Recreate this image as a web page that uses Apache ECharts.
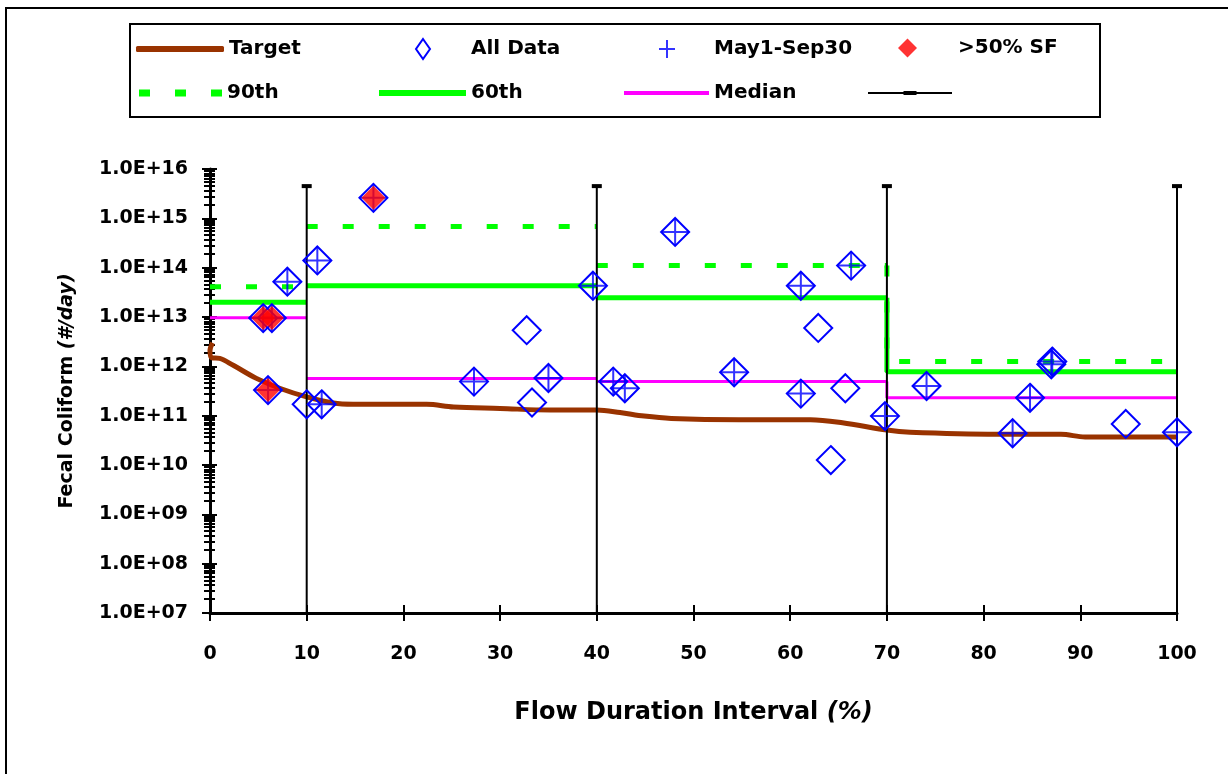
<!DOCTYPE html>
<html>
<head>
<meta charset="utf-8">
<script src="https://cdn.jsdelivr.net/npm/echarts@6/dist/echarts.min.js"></script>
<style>
html,body{margin:0;padding:0;background:#fff;}
#chart{width:1228px;height:774px;}
</style>
</head>
<body>
<div id="chart"></div>
<script>
// ---- data ----
const zoneEdges = [0, 10, 40, 70, 100];
const pct90 = [4.1e13, 6.8e14, 1.1e14, 1.26e12];
const pct60 = [2.0e13, 4.3e13, 2.45e13, 7.8e11];
const medianVals = [9.6e12, 5.7e11, 4.9e11, 2.3e11];

const targetX = [0.27, 0, 0.17, 1.0, 2.4, 4.8, 7.2, 10, 12.75, 14.8, 22.4, 25.2, 30, 35.2, 40, 42.4, 44.9, 47.7, 54.7, 62.1, 65.4, 70, 72.4, 81.4, 88, 90.5, 100];
const targetY = [3.0e12, 2.1e12, 1.5e12, 1.45e12, 1.05e12, 5.7e11, 3.6e11, 2.4e11, 1.8e11, 1.7e11, 1.7e11, 1.5e11, 1.4e11, 1.3e11, 1.3e11, 1.16e11, 9.8e10, 8.8e10, 8.3e10, 8.3e10, 7.2e10, 5.1e10, 4.6e10, 4.2e10, 4.2e10, 3.7e10, 3.7e10];

const allDataX = [5.5, 6.4, 6.0, 8.0, 10.0, 11.1, 11.55, 16.9, 27.3, 32.75, 33.3, 35.0, 39.6, 41.7, 42.9, 48.1, 54.2, 61.1, 61.1, 62.9, 64.2, 65.7, 66.3, 69.8, 74.1, 83.0, 84.8, 87.0, 87.1, 94.7, 100];
const allDataY = [9.5e12, 9.5e12, 3.3e11, 5.2e13, 1.7e11, 1.4e14, 1.7e11, 2.6e15, 4.9e11, 5.4e12, 1.85e11, 5.8e11, 4.3e13, 4.9e11, 3.6e11, 5.3e14, 7.6e11, 4.3e13, 2.8e11, 6.0e12, 1.26e10, 3.6e11, 1.1e14, 9.8e10, 4.0e11, 4.4e10, 2.3e11, 1.1e12, 1.25e12, 6.8e10, 4.6e10];

const maySepX = [5.5, 6.4, 6.0, 8.0, 11.1, 11.55, 16.9, 27.3, 35.0, 39.6, 41.7, 42.9, 48.1, 54.2, 61.1, 61.1, 66.3, 69.8, 74.1, 83.0, 84.8, 87.0, 87.1, 100];
const maySepY = [9.5e12, 9.5e12, 3.3e11, 5.2e13, 1.4e14, 1.7e11, 2.6e15, 4.9e11, 5.8e11, 4.3e13, 4.9e11, 3.6e11, 5.3e14, 7.6e11, 4.3e13, 2.8e11, 1.1e14, 9.8e10, 4.0e11, 4.4e10, 2.3e11, 1.1e12, 1.25e12, 4.6e10];

const sfX = [5.5, 6.4, 6.0, 16.9];
const sfY = [9.5e12, 9.5e12, 3.3e11, 2.6e15];

const barX = [10, 40, 70, 100];
const barTop = 4.5e15;
const yMin = 1e7, yMax = 1e16;
const xTicks = [0, 10, 20, 30, 40, 50, 60, 70, 80, 90, 100];

// ---- build ----
const FONT = 'DejaVu Sans';
const zip = (xs, ys) => xs.map((x, i) => [x, ys[i]]);

function stepSeries(name, vals, lineStyle, z) {
  const out = [];
  for (let i = 0; i < vals.length; i++) {
    const pts = [];
    if (i === vals.length - 1) pts.push([zoneEdges[i], vals[i - 1]]);
    pts.push([zoneEdges[i], vals[i]], [zoneEdges[i + 1], vals[i]]);
    out.push({
      name: name, type: 'line', data: pts, symbol: 'none', z: z,
      lineStyle: lineStyle, itemStyle: { color: lineStyle.color },
      animation: false, silent: true
    });
  }
  return out;
}

const series = [];
series.push({
  name: 'Target', type: 'line', data: zip(targetX, targetY), symbol: 'none', smooth: 0.35,
  lineStyle: { color: '#993300', width: 5 }, itemStyle: { color: '#993300' }, z: 3, animation: false
});
series.push({
  name: 'All Data', type: 'scatter', data: zip(allDataX, allDataY), symbol: 'diamond', symbolSize: [28, 28],
  itemStyle: { color: 'rgba(0,0,0,0)', borderColor: '#0000ff', borderWidth: 2, opacity: 1 }, z: 5, animation: false
});
series.push({
  name: 'May1-Sep30', type: 'scatter', data: zip(maySepX, maySepY), symbol: 'path://M0,-1L0,1M-1,0L1,0', symbolSize: [28, 28],
  itemStyle: { color: 'rgba(0,0,0,0)', borderColor: '#0000ff', borderWidth: 2 }, z: 5, animation: false
});
series.push({
  name: '>50% SF', type: 'scatter', data: zip(sfX, sfY), symbol: 'diamond', symbolSize: [24, 24],
  itemStyle: { color: '#ff0000' }, z: 6, animation: false
});
series.push(...stepSeries('90th', pct90, { color: '#00ff00', width: 5, type: [11, 25], cap: 'butt' }, 2));
series.push(...stepSeries('60th', pct60, { color: '#00ff00', width: 5 }, 2));
series.push(...stepSeries('Median', medianVals, { color: '#ff00ff', width: 3 }, 2));
barX.forEach(x => {
  series.push({
    name: ' ', type: 'line', symbol: 'rect', symbolSize: [10, 4], showSymbol: true,
    data: [{ value: [x, yMin], symbol: 'none' }, { value: [x, barTop] }],
    lineStyle: { color: '#000', width: 2 }, itemStyle: { color: '#000' }, z: 4, animation: false, silent: true
  });
});

function leg(name, left, top, w, h, icon, pad) {
  return {
    data: [{ name: name, icon: icon }],
    left: left, top: top, itemWidth: w, itemHeight: h, padding: 0, itemGap: 0,
    symbolKeepAspect: false, selectedMode: false,
    textStyle: { fontFamily: FONT, fontWeight: 'bold', fontSize: 20, color: '#000', padding: [0, 0, 0, pad || 0] }
  };
}
const diamondIcon = 'path://M0,0L2,3L0,6L-2,3Z';
const plusIcon = 'path://M0,0L0,2M-1,1L1,1';
const dashIcon = 'path://M0,0h11v7h-11zM36,0h11v7h-11zM72,0h11v7h-11z';
const barIcon = 'path://M0,1h84v2h-84zM35.5,0h13v4h-13z';
const legends = [
  leg('Target', 136, 39, 88, 6, 'roundRect'),
  leg('All Data', 415, 38, 14, 20, diamondIcon, 36),
  leg('May1-Sep30', 658, 39, 16, 18, plusIcon, 34),
  leg('>50% SF', 898, 38, 19, 19, diamondIcon, 36),
  leg('90th', 139, 83, 83, 7, dashIcon),
  leg('60th', 379, 83, 87, 6, 'rect'),
  leg('Median', 624, 83, 85, 4, 'rect'),
  leg(' ', 868, 83, 84, 4, barIcon)
];

const axisFont = { fontFamily: FONT, fontWeight: 'bold', fontSize: 19, color: '#000' };
const chart = echarts.init(document.getElementById('chart'), null, { renderer: 'canvas' });
chart.setOption({
  backgroundColor: '#ffffff',
  animation: false,
  textStyle: { fontFamily: FONT },
  legend: legends,
  grid: { left: 210, right: 51, top: 169, bottom: 161, containLabel: false },
  xAxis: [{
    type: 'value', min: 0, max: 100, interval: 10,
    axisLine: { onZero: false, lineStyle: { color: '#000', width: 3 } },
    axisTick: { length: 8, lineStyle: { color: '#000', width: 2 } },
    axisLabel: Object.assign({ margin: 32, formatter: v => xTicks.includes(v) ? String(v) : '' }, axisFont),
    splitLine: { show: false },
    name: '{a|Flow Duration Interval }{b|(%)}', nameLocation: 'middle', nameGap: 88,
    nameTextStyle: { rich: {
      a: { fontFamily: FONT, fontWeight: 'bold', fontSize: 24, color: '#000' },
      b: { fontFamily: FONT, fontWeight: 'bold', fontStyle: 'italic', fontSize: 24, color: '#000' } } }
  }, {
    type: 'value', min: 0, max: 100, interval: 10, position: 'bottom',
    axisLine: { show: false }, axisLabel: { show: false }, splitLine: { show: false },
    axisTick: { inside: true, length: 8, lineStyle: { color: '#000', width: 2 } }
  }],
  yAxis: [{
    type: 'log', logBase: 10, min: yMin, max: yMax,
    axisLine: { show: true, onZero: false, lineStyle: { color: '#000', width: 3 } },
    axisTick: { show: true, length: 8, lineStyle: { color: '#000', width: 2 } },
    minorTick: { show: true, splitNumber: 10, length: 6, lineStyle: { color: '#000', width: 2 } },
    axisLabel: Object.assign({ margin: 22,
      formatter: v => { const e = Math.round(Math.log10(v)); return '1.0E+' + (e < 10 ? '0' + e : e); } }, axisFont),
    splitLine: { show: false },
    name: '{a|Fecal Coliform }{b|(#/day)}', nameLocation: 'middle', nameGap: 133, nameRotate: 90,
    nameTextStyle: { rich: {
      a: { fontFamily: FONT, fontWeight: 'bold', fontSize: 19, color: '#000' },
      b: { fontFamily: FONT, fontWeight: 'bold', fontStyle: 'italic', fontSize: 19, color: '#000' } } }
  }, {
    type: 'log', logBase: 10, min: yMin, max: yMax, position: 'left', offset: 0,
    axisLine: { show: false }, axisLabel: { show: false }, splitLine: { show: false },
    axisTick: { show: true, inside: true, length: 7, lineStyle: { color: '#000', width: 2 } },
    minorTick: { show: true, splitNumber: 10, length: 5, lineStyle: { color: '#000', width: 2 } }
  }],
  graphic: [
    { type: 'rect', shape: { x: 6, y: 8, width: 1400, height: 1000 }, style: { fill: 'none', stroke: '#000', lineWidth: 2 }, silent: true, z: -1 },
    { type: 'rect', shape: { x: 130, y: 24, width: 970, height: 93 }, style: { fill: 'none', stroke: '#000', lineWidth: 2 }, silent: true, z: -1 }
  ],
  series: series
});
</script>
</body>
</html>
